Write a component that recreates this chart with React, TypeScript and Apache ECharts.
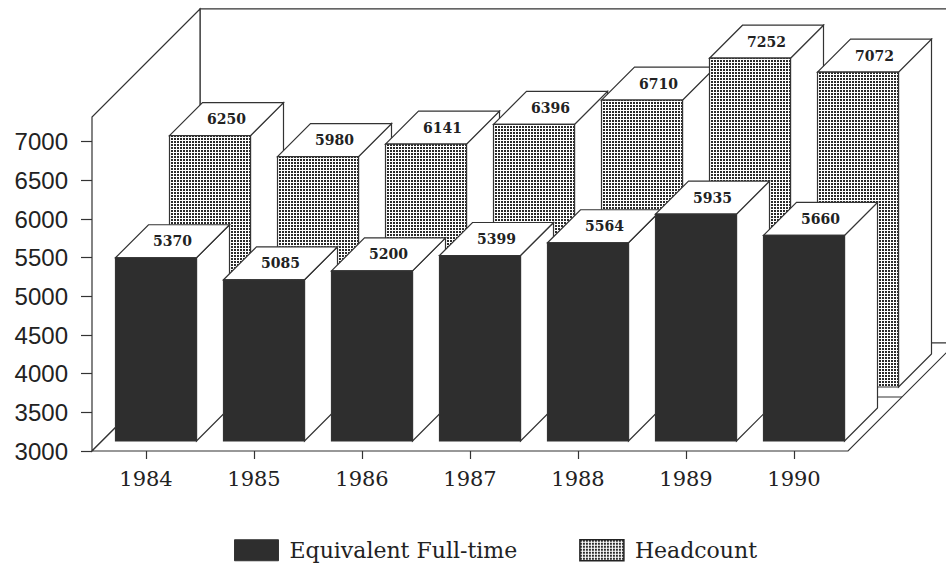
import React, { useEffect, useRef } from "react";
import * as echarts from "echarts";

// ---- data ----
const years = ["1984", "1985", "1986", "1987", "1988", "1989", "1990"];
const fullTime = [5370, 5085, 5200, 5399, 5564, 5935, 5660];
const headcount = [6250, 5980, 6141, 6396, 6710, 7252, 7072];
const yMin = 3000;
const yMax = 7000;
const yInterval = 500;
const wallTopValue = 7320;
const seriesNames = ["Equivalent Full-time", "Headcount"];

// ---- style ----
const DEPTH = 108;
const ROW_SPLIT = 54;
const FRONT_ROW = [10, 43];
const BACK_ROW = [64, 97];
const BAR_RATIO = 0.75;
const LINE = "#333";
const LW = 1.2;
const DARK = "#2e2e2e";
const TEXT = "#222";

function makePattern() {
  const c = document.createElement("canvas");
  c.width = 3;
  c.height = 3;
  const ctx = c.getContext("2d")!;
  ctx.fillStyle = "#ffffff";
  ctx.fillRect(0, 0, 3, 3);
  ctx.fillStyle = "#2a2a2a";
  ctx.fillRect(0, 0, 2, 2);
  return { image: c.toDataURL(), imageWidth: 3, imageHeight: 3, repeat: "repeat" };
}

function barRenderer(row: number[], fill: any) {
  return (params: any, api: any) => {
    const i = api.value(0);
    const v = api.value(1);
    const topPt = api.coord([i, v]);
    const basePt = api.coord([i, yMin]);
    const w = api.size([1, 0])[0] * BAR_RATIO;
    const d0 = row[0];
    const dd = row[1] - row[0];
    const xl = topPt[0] - w / 2 + d0;
    const xr = xl + w;
    const yt = topPt[1] - d0;
    const yb = basePt[1] - d0;
    const face = { fill: "#fff", stroke: LINE, lineWidth: LW };
    const z = i * 5;
    return {
      type: "group",
      children: [
        {
          type: "polygon",
          z2: z,
          shape: { points: [[xr, yt], [xr + dd, yt - dd], [xr + dd, yb - dd], [xr, yb]] },
          style: face,
        },
        {
          type: "polygon",
          z2: z + 1,
          shape: { points: [[xl, yt], [xl + dd, yt - dd], [xr + dd, yt - dd], [xr, yt]] },
          style: face,
        },
        {
          type: "rect",
          z2: z + 2,
          shape: { x: xl, y: yt, width: w, height: yb - yt },
          style: { fill, stroke: LINE, lineWidth: LW },
        },
        {
          type: "text",
          z2: z + 3,
          x: (xl + xr) / 2 + dd / 2,
          y: yt - dd / 2,
          style: {
            text: String(v),
            fill: TEXT,
            fontFamily: "DejaVu Serif",
            fontWeight: "bold",
            fontSize: 14,
            align: "center",
            verticalAlign: "middle",
          },
        },
      ],
    };
  };
}

function wallRenderer(params: any, api: any) {
  const cs = params.coordSys;
  const L = cs.x;
  const R = cs.x + cs.width;
  const B = cs.y + cs.height;
  const T = api.coord([0, wallTopValue])[1];
  const D = DEPTH;
  const s = { fill: "#fff", stroke: LINE, lineWidth: LW };
  return {
    type: "group",
    children: [
      {
        type: "polygon",
        shape: { points: [[L + D, T - D], [R + D, T - D], [R + D, B - D], [L + D, B - D]] },
        style: s,
      },
      {
        type: "polygon",
        shape: { points: [[L, B], [L, T], [L + D, T - D], [L + D, B - D]] },
        style: s,
      },
      {
        type: "polygon",
        shape: { points: [[L, B], [R, B], [R + D, B - D], [L + D, B - D]] },
        style: s,
      },
      {
        type: "line",
        shape: { x1: L + ROW_SPLIT, y1: B - ROW_SPLIT, x2: R + ROW_SPLIT, y2: B - ROW_SPLIT },
        style: { stroke: LINE, lineWidth: LW },
      },
    ],
  };
}

export default function App() {
  const ref = useRef<HTMLDivElement>(null);
  useEffect(() => {
    if (!ref.current) return;
    const chart = echarts.init(ref.current, undefined, { renderer: "svg" });
    const pattern = makePattern();
    chart.setOption({
      animation: false,
      backgroundColor: "#fff",
      grid: { left: 92, right: 98, top: 141.7, bottom: 112, containLabel: false },
      xAxis: {
        type: "category",
        data: years,
        boundaryGap: true,
        axisLine: { show: false },
        axisTick: { show: true, alignWithLabel: true, length: 8, lineStyle: { color: LINE, width: LW } },
        axisLabel: { fontFamily: "DejaVu Serif", fontSize: 21, color: TEXT, margin: 17 },
        splitLine: { show: false },
      },
      yAxis: {
        type: "value",
        min: yMin,
        max: yMax,
        interval: yInterval,
        axisLine: { show: false },
        axisTick: { show: true, length: 11, lineStyle: { color: LINE, width: LW } },
        axisLabel: {
          fontFamily: "Liberation Sans",
          fontSize: 24,
          color: TEXT,
          margin: 24,
          formatter: (v: number) => String(v),
        },
        splitLine: { show: false },
      },
      legend: {
        left: 229,
        top: 534,
        itemWidth: 44,
        itemHeight: 21,
        itemGap: 62,
        selectedMode: false,
        textStyle: { fontFamily: "DejaVu Serif", fontSize: 22, color: TEXT, padding: [0, 0, 0, 6] },
        data: [
          { name: seriesNames[0], icon: "rect", itemStyle: { color: DARK, borderColor: LINE, borderWidth: 1 } },
          { name: seriesNames[1], icon: "rect", itemStyle: { color: pattern, borderColor: "#222", borderWidth: 1.5 } },
        ],
      },
      series: [
        {
          type: "custom",
          name: "walls",
          silent: true,
          clip: false,
          z: 1,
          data: [[0, yMin]],
          encode: { x: 0, y: 1 },
          renderItem: wallRenderer,
        },
        {
          type: "custom",
          name: seriesNames[1],
          silent: true,
          clip: false,
          z: 2,
          itemStyle: { color: pattern },
          data: headcount.map((v, i) => [i, v]),
          encode: { x: 0, y: 1 },
          renderItem: barRenderer(BACK_ROW, pattern),
        },
        {
          type: "custom",
          name: seriesNames[0],
          silent: true,
          clip: false,
          z: 3,
          itemStyle: { color: DARK },
          data: fullTime.map((v, i) => [i, v]),
          encode: { x: 0, y: 1 },
          renderItem: barRenderer(FRONT_ROW, DARK),
        },
      ],
    });
    return () => chart.dispose();
  }, []);
  return (
    <div
      ref={ref}
      style={{ position: "absolute", left: 0, top: 0, width: 946, height: 563, background: "#fff" }}
    />
  );
}
